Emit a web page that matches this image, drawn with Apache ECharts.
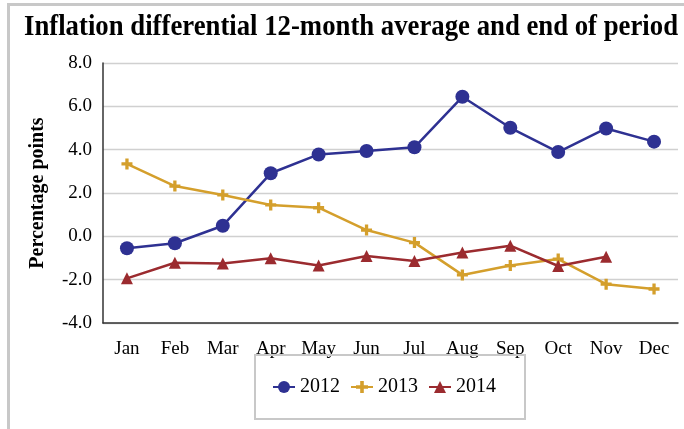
<!DOCTYPE html>
<html><head><meta charset="utf-8">
<script src="https://cdn.jsdelivr.net/npm/echarts@6/dist/echarts.min.js"></script>
<style>html,body{margin:0;padding:0;background:#fff}#c{width:684px;height:429px}</style>
</head><body><div id="c"></div>
<script>
const months = ['Jan','Feb','Mar','Apr','May','Jun','Jul','Aug','Sep','Oct','Nov','Dec'];
const s2012 = [-0.55,-0.32,0.49,2.91,3.78,3.94,4.11,6.44,5.01,3.89,4.98,4.37];
const s2013 = [3.34,2.32,1.91,1.45,1.32,0.29,-0.29,-1.78,-1.35,-1.05,-2.21,-2.43];
const s2014 = [-1.94,-1.22,-1.25,-1.01,-1.35,-0.91,-1.14,-0.75,-0.43,-1.37,-0.94];
const yTicks = {min:-4, max:8, interval:2};
const titleText = 'Inflation differential 12-month average and end of period';

const FONT = '"Liberation Serif", "Times New Roman", serif';
const cv = document.createElement('canvas').getContext('2d');
cv.font = 'bold 29px "Liberation Serif"';
const tw = cv.measureText(titleText).width;
const sx = 654 / tw;

const plus = 'path://M3.5,0H6.5V3.5H10V6.5H6.5V10H3.5V6.5H0V3.5H3.5Z';
const chart = echarts.init(document.getElementById('c'));
chart.setOption({
  animation:false,
  textStyle:{fontFamily:FONT},
  graphic:[
    {type:'rect', shape:{x:7,y:3,width:700,height:3}, style:{fill:'#c8c8c8'}, silent:true},
    {type:'rect', shape:{x:7,y:3,width:3,height:430}, style:{fill:'#c8c8c8'}, silent:true},
    {type:'text', x:351, y:28, scaleX:sx, originX:0, style:{text:titleText, font:'bold 29px "Liberation Serif"', fill:'#000', align:'center', verticalAlign:'middle'}}
  ],
  grid:{left:103,right:6,top:63,bottom:106},
  legend:{
    left:255, top:355,
    padding:[22,29,22,17],
    borderColor:'#c8c8c8', borderWidth:2,
    itemGap:10, itemWidth:22, itemHeight:15,
    textStyle:{fontFamily:FONT,fontSize:20,color:'#000'},
    data:['2012','2013','2014']
  },
  xAxis:{
    type:'category', data:months, boundaryGap:true,
    axisLine:{onZero:false,lineStyle:{color:'#333',width:1.5}},
    axisTick:{show:false},
    axisLabel:{fontFamily:FONT,fontSize:19,color:'#000',margin:17}
  },
  yAxis:{
    type:'value', min:yTicks.min, max:yTicks.max, interval:yTicks.interval,
    name:'Percentage points', nameLocation:'middle', nameGap:55,
    nameTextStyle:{fontFamily:FONT,fontSize:20,fontWeight:'bold',color:'#000'},
    axisLine:{show:true,lineStyle:{color:'#333',width:1.5}},
    axisTick:{show:false},
    splitLine:{lineStyle:{color:'#d0d0d0',width:1.3}},
    axisLabel:{fontFamily:FONT,fontSize:19,color:'#000',margin:11,formatter:v=>v.toFixed(1)}
  },
  series:[
    {name:'2012',type:'line',data:s2012,symbol:'circle',symbolSize:14,
     itemStyle:{color:'#2e3192'},lineStyle:{color:'#2e3192',width:2.5}},
    {name:'2013',type:'line',data:s2013,symbol:plus,symbolSize:11,
     itemStyle:{color:'#d49f2c'},lineStyle:{color:'#d49f2c',width:2.5}},
    {name:'2014',type:'line',data:s2014,symbol:'triangle',symbolSize:12,
     itemStyle:{color:'#9b2b2f'},lineStyle:{color:'#9b2b2f',width:2.5}}
  ]
});
</script></body></html>
